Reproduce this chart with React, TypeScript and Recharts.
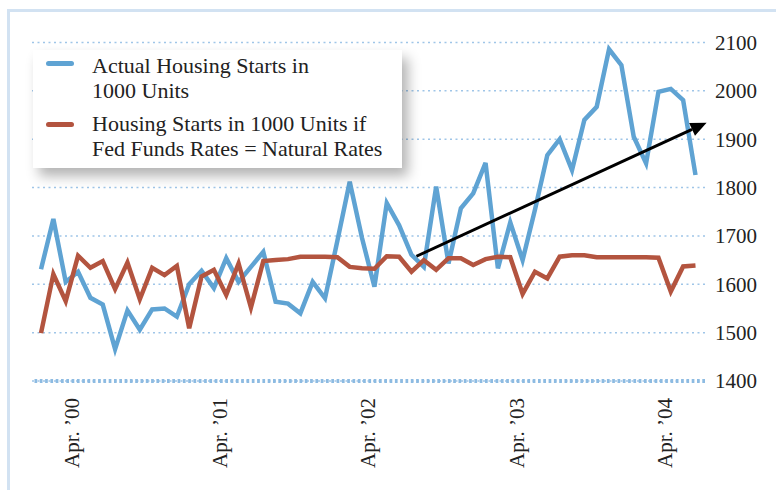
import React from 'react';
import { LineChart, Line, XAxis, YAxis, CartesianGrid, ReferenceLine, Legend } from 'recharts';

const months = [
  "Jan '00", "Feb '00", "Mar '00", "Apr '00", "May '00", "Jun '00", "Jul '00", "Aug '00", "Sep '00", "Oct '00", "Nov '00", "Dec '00",
  "Jan '01", "Feb '01", "Mar '01", "Apr '01", "May '01", "Jun '01", "Jul '01", "Aug '01", "Sep '01", "Oct '01", "Nov '01", "Dec '01",
  "Jan '02", "Feb '02", "Mar '02", "Apr '02", "May '02", "Jun '02", "Jul '02", "Aug '02", "Sep '02", "Oct '02", "Nov '02", "Dec '02",
  "Jan '03", "Feb '03", "Mar '03", "Apr '03", "May '03", "Jun '03", "Jul '03", "Aug '03", "Sep '03", "Oct '03", "Nov '03", "Dec '03",
  "Jan '04", "Feb '04", "Mar '04", "Apr '04", "May '04", "Jun '04",
];

const actualStarts = [
  1631, 1735, 1605, 1626, 1572, 1558, 1466, 1546, 1506, 1548, 1550, 1533,
  1600, 1628, 1592, 1654, 1605, 1636, 1667, 1564, 1560, 1540, 1605, 1571,
  1690, 1812, 1695, 1595, 1768, 1722, 1661, 1636, 1802, 1643, 1757, 1788,
  1851, 1633, 1728, 1650, 1754, 1867, 1900, 1836, 1940, 1967, 2086, 2053,
  1905, 1850, 1998, 2004, 1981, 1826,
];

const naturalRateStarts = [
  1499, 1621, 1565, 1659, 1634, 1648, 1590, 1645, 1569, 1634, 1619, 1638,
  1509, 1616, 1630, 1578, 1643, 1552, 1648, 1650, 1652, 1657, 1657, 1657,
  1656, 1636, 1633, 1632, 1658, 1657, 1626, 1650, 1630, 1654, 1654, 1640,
  1652, 1657, 1656, 1580, 1626, 1612, 1657, 1660, 1660, 1656, 1656, 1656,
  1656, 1656, 1655, 1585, 1637, 1639,
];

const xTickIndices = [3, 15, 27, 39, 51];
const xTickLabels = ["Apr. \u201900", "Apr. \u201901", "Apr. \u201902", "Apr. \u201903", "Apr. \u201904"];
const yTicks = [1400, 1500, 1600, 1700, 1800, 1900, 2000, 2100];

const seriesNames = [
  "Actual Housing Starts in 1000 Units",
  "Housing Starts in 1000 Units if Fed Funds Rates = Natural Rates",
];
const legendLines = [
  ["Actual Housing Starts in", "1000 Units"],
  ["Housing Starts in 1000 Units if", "Fed Funds Rates = Natural Rates"],
];

// trend arrow: start and end in data units (x = month index, y = starts)
const trendArrow = [
  { x: 30.4, y: 1658 },
  { x: 53.9, y: 1934 },
];

const BLUE = '#5fa3d3';
const RED = '#b3543f';
const FONT = '"Liberation Serif", "Times New Roman", serif';

const data = months.map((m, i) => ({
  i,
  month: m,
  actual: actualStarts[i],
  natural: naturalRateStarts[i],
}));

const XTick = (props: any) => {
  const { x, y, payload } = props;
  const idx = xTickIndices.indexOf(payload.value);
  const label = idx >= 0 ? xTickLabels[idx] : '';
  const bx = x + 1;
  return (
    <text
      x={bx}
      y={y}
      transform={`rotate(-90, ${bx}, ${y})`}
      textAnchor="end"
      fontSize={21}
      fontFamily={FONT}
      fill="#222"
    >
      {label}
    </text>
  );
};

const ArrowShape = (p: any) => {
  const { x1, y1, x2, y2 } = p;
  const ang = Math.atan2(y2 - y1, x2 - x1);
  const L = 16;
  const W = 7;
  const bx = x2 - L * Math.cos(ang);
  const by = y2 - L * Math.sin(ang);
  const px = -Math.sin(ang) * W;
  const py = Math.cos(ang) * W;
  return (
    <g>
      <line x1={x1} y1={y1} x2={bx} y2={by} stroke="#000" strokeWidth={3} />
      <polygon points={`${x2},${y2} ${bx + px},${by + py} ${bx - px},${by - py}`} fill="#000" />
    </g>
  );
};

const LegendBox = () => {
  const colors = [BLUE, RED];
  return (
    <div
      style={{
        position: 'relative',
        width: 369,
        height: 118,
        background: '#fff',
        boxShadow: '6px 8px 12px rgba(0,0,0,0.3)',
        fontFamily: FONT,
        fontSize: 22,
        lineHeight: '25.5px',
        color: '#222',
      }}
    >
      {legendLines.map((lines, k) => (
        <React.Fragment key={k}>
          <div
            style={{
              position: 'absolute',
              left: 13,
              top: k === 0 ? 11 : 71.5,
              width: 28,
              height: 5,
              borderRadius: 3,
              background: colors[k],
            }}
          />
          <div
            style={{
              position: 'absolute',
              left: 59,
              top: k === 0 ? 2.5 : 60.5,
              whiteSpace: 'nowrap',
              textAlign: 'left',
            }}
          >
            {lines[0]}
            <br />
            {lines[1]}
          </div>
        </React.Fragment>
      ))}
    </div>
  );
};

export default function App() {
  return (
    <div style={{ position: 'absolute', left: 0, top: 0, width: 776, height: 490, overflow: 'hidden', background: '#fff' }}>
      <div
        style={{
          position: 'absolute',
          left: 7,
          top: 9,
          width: 769,
          height: 481,
          borderLeft: '3px solid #d2e2f2',
          borderTop: '3px solid #d2e2f2',
          boxSizing: 'border-box',
        }}
      />
      <div style={{ position: 'absolute', left: 0, top: 0, fontFamily: FONT }}>
        <LineChart
          width={776}
          height={490}
          data={data}
          margin={{ top: 42.5, left: 32, right: 11, bottom: 19 }}
        >
          <CartesianGrid
            vertical={false}
            stroke="#9fc5e8"
            strokeWidth={1.5}
            strokeDasharray="2 3.5"
          />
          <XAxis
            dataKey="i"
            type="number"
            domain={[-0.73, 53.77]}
            ticks={xTickIndices}
            interval={0}
            tick={<XTick />}
            tickLine={false}
            axisLine={false}
            tickSize={0}
            tickMargin={17}
            height={90}
            allowDataOverflow
          />
          <YAxis
            orientation="right"
            domain={[1400, 2100]}
            ticks={yTicks}
            interval={0}
            tickLine={false}
            axisLine={false}
            tickSize={0}
            tickMargin={10}
            width={60}
            tick={{ fontSize: 21, fill: '#222', fontFamily: FONT }}
            allowDataOverflow
          />
          <ReferenceLine y={1400} stroke="#8dbbe2" strokeWidth={4} strokeDasharray="2.7 2.6" />
          <Line
            type="linear"
            dataKey="actual"
            name={seriesNames[0]}
            stroke={BLUE}
            strokeWidth={4.5}
            dot={false}
            activeDot={false}
            isAnimationActive={false}
          />
          <Line
            type="linear"
            dataKey="natural"
            name={seriesNames[1]}
            stroke={RED}
            strokeWidth={4.5}
            dot={false}
            activeDot={false}
            isAnimationActive={false}
          />
          <ReferenceLine
            segment={trendArrow}
            ifOverflow="visible"
            shape={ArrowShape}
          />
          <Legend
            layout="vertical"
            align="center"
            verticalAlign="middle"
            content={<LegendBox />}
            wrapperStyle={{ position: 'absolute', left: 33, top: 50, width: 369, height: 118 }}
          />
        </LineChart>
      </div>
    </div>
  );
}
